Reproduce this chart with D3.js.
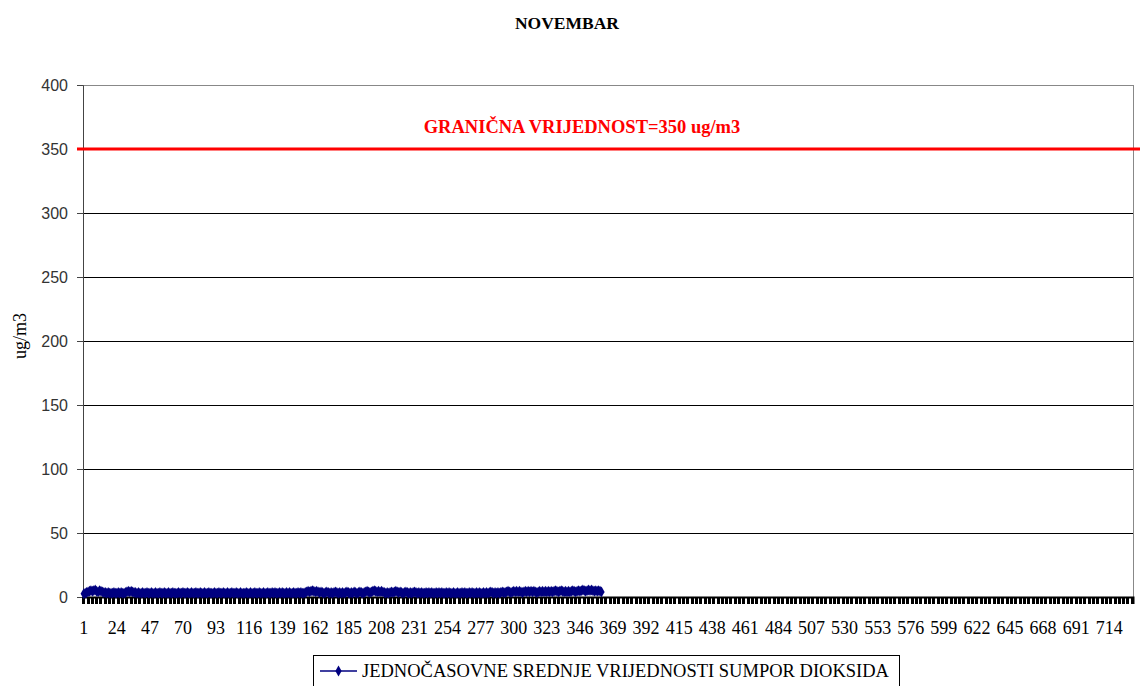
<!DOCTYPE html>
<html>
<head>
<meta charset="utf-8">
<script src="https://cdn.jsdelivr.net/npm/d3@7"></script>
<style>
  body { margin: 0; background: #fff; }
  svg { display: block; }
</style>
</head>
<body>
<div id="chart"></div>
<script>
// chart texts
var title = 'NOVEMBAR';
var yTitle = 'ug/m3';
var limitLabel = 'GRANIČNA VRIJEDNOST=350 ug/m3';
var seriesName = 'JEDNOČASOVNE SREDNJE VRIJEDNOSTI SUMPOR DIOKSIDA';

// hour categories on the x axis (1 .. 730), labels every 23rd
var categoryCount = 730;
var categories = d3.range(1, categoryCount + 1);
var labelStep = 23;

// y axis ticks and limit value
var yTicks = [0, 50, 100, 150, 200, 250, 300, 350, 400];
var limitValue = 350;

// hourly SO2 means (hours 1 .. 361)
var values = [
  2.5,3,3.5,4,4.5,5,4.5,5,5.5,4.5,4,5,4.5,4,3.5,3.5,3,3.5,3,3,
  3,3.5,3,3,3.5,3,3.5,3,3,3.5,4,4.5,4,4.5,4,3.5,3.5,3,3.5,3,
  3,3.5,3,3,3.5,3,3,3.5,3,3,3.5,3,3,3.5,3,3,3.5,3,3,3.5,
  3,3,3.5,3,3,3,3.5,3,3,3.5,3,3,3.5,3,3,3.5,3,3,3.5,3,
  3,3.5,3,3,3.5,3,3,3.5,3,3,3,3.5,3,3,3.5,3,3,3.5,3,3,
  3.5,3,3,3.5,3,3,3.5,3,3,3.5,3,3,3,3.5,3,3,3.5,3,3,3.5,
  3,3,3.5,3,3,3.5,3,3,3.5,3,3,3.5,3,3.5,3,3,3.5,3,3.5,3,
  3,3.5,3,3.5,3,3,3.5,3,3,3.5,3,3.5,3,3,3.5,4,4.5,4,4.5,5,
  4.5,4,4.5,4,3.5,4,3.5,3,3.5,4,3.5,3,3.5,3,3.5,4,3.5,3,3.5,3,
  3.5,3,3.5,4,3.5,3,3.5,3,4,3.5,3,3.5,4,3.5,3,3.5,4,4.5,4,3.5,
  4,4.5,5,4.5,4,4.5,4,4.5,4,3.5,3,3.5,3,3.5,4,3.5,4,4.5,4,3.5,
  4,3.5,3,3.5,4,3.5,3,3.5,3,3.5,4,3.5,3,3.5,3,3.5,3,3,3.5,3,
  3.5,3,3.5,3,3,3.5,3,3.5,3,3.5,3,3,3.5,3,3.5,3,3,3.5,3,3,
  3.5,3,3,3.5,3,3.5,3,3,3.5,3,3.5,3,3,3.5,3,3.5,3,3,3.5,3,
  3.5,3,3.5,4,3.5,3,3.5,3,3.5,3,3.5,4,3.5,3.5,4,4.5,4,3.5,4,4.5,
  4,4.5,4,4.5,4,3.5,4,4.5,4,4.5,4,4.5,4,4.5,4,3.5,4,4.5,4,4.5,
  4,4.5,4,4.5,4,4.5,4,4.5,5,4.5,4,4.5,5,4.5,4,4.5,4,4.5,4,4.5,
  5,4.5,4,4.5,5,4.5,5,5.5,5,4.5,5,5.5,5,5.5,5,4.5,5,4.5,5,4.5,
  4
];

var SERIF = "'Liberation Serif', 'Times New Roman', serif";
var SANS = "'Liberation Sans', Arial, sans-serif";

var width = 1140, height = 686;
var margin = {left: 83, right: 7, top: 85, bottom: 89};

var svg = d3.select('#chart').append('svg')
  .attr('width', width)
  .attr('height', height);

var x = d3.scaleBand()
  .domain(categories)
  .range([margin.left, width - margin.right]);

var y = d3.scaleLinear()
  .domain([0, 400])
  .range([height - margin.bottom, margin.top]);

var navy = '#000080';

// Gridlines
svg.append('g')
  .selectAll('line')
  .data(yTicks.filter(function(d) { return d > 0; }))
  .enter().append('line')
  .attr('x1', margin.left)
  .attr('x2', width - margin.right)
  .attr('y1', function(d) { return y(d); })
  .attr('y2', function(d) { return y(d); })
  .attr('stroke', function(d) { return d === 400 ? '#888' : '#000'; })
  .attr('stroke-width', 1)
  .attr('shape-rendering', 'crispEdges');

// Right plot border
svg.append('line')
  .attr('x1', width - margin.right).attr('x2', width - margin.right)
  .attr('y1', margin.top).attr('y2', y(0))
  .attr('stroke', '#888')
  .attr('shape-rendering', 'crispEdges');

// Y axis
var yAxis = svg.append('g')
  .attr('transform', 'translate(' + margin.left + ',0)')
  .call(d3.axisLeft(y).tickValues(yTicks).tickSize(6).tickPadding(9));
yAxis.select('.domain').attr('stroke', '#444');
yAxis.selectAll('.tick line').attr('stroke', '#444');
yAxis.selectAll('text')
  .style('font-family', SANS)
  .style('font-size', '16px')
  .attr('fill', '#333');

// X axis: dense tick marks + labels every 23rd hour
var xAxis = svg.append('g')
  .attr('transform', 'translate(0,' + y(0) + ')')
  .call(d3.axisBottom(x)
    .tickValues(categories.filter(function(d) { return (d - 1) % 3 === 0; }))
    .tickSize(7)
    .tickFormat(''));
xAxis.select('.domain').attr('stroke', '#000').attr('stroke-width', 2);
xAxis.selectAll('.tick line')
  .attr('stroke', '#000')
  .attr('stroke-width', 3)
  .attr('shape-rendering', 'crispEdges');

svg.append('g')
  .selectAll('text')
  .data(categories.filter(function(d) { return (d - 1) % labelStep === 0; }))
  .enter().append('text')
  .style('font-family', SERIF)
  .style('font-size', '18px')
  .attr('x', function(d) { return x(d) + x.bandwidth() / 2; })
  .attr('y', y(0) + 37)
  .attr('text-anchor', 'middle')
  .attr('fill', '#000')
  .text(function(d) { return d; });

// Limit line
svg.append('line')
  .attr('x1', margin.left - 6)
  .attr('x2', width)
  .attr('y1', y(limitValue))
  .attr('y2', y(limitValue))
  .attr('stroke', '#ff0000')
  .attr('stroke-width', 3);

svg.append('text')
  .style('font-family', SERIF)
  .style('font-weight', 'bold')
  .style('font-size', '18.5px')
  .attr('x', 582)
  .attr('y', y(limitValue) - 16)
  .attr('text-anchor', 'middle')
  .attr('fill', '#ff0000')
  .text(limitLabel);

// Data series
var line = d3.line()
  .x(function(d, i) { return x(categories[i]) + x.bandwidth() / 2; })
  .y(function(d) { return y(d); });

svg.append('path')
  .datum(values)
  .attr('fill', 'none')
  .attr('stroke', navy)
  .attr('stroke-width', 2)
  .attr('d', line);

var diamond = d3.symbol().type(d3.symbolDiamond).size(34);
svg.append('g')
  .selectAll('path')
  .data(values)
  .enter().append('path')
  .attr('transform', function(d, i) {
    return 'translate(' + (x(categories[i]) + x.bandwidth() / 2) + ',' + y(d) + ')';
  })
  .attr('d', diamond)
  .attr('fill', navy);

// Title
svg.append('text')
  .style('font-family', SERIF)
  .style('font-weight', 'bold')
  .style('font-size', '17.5px')
  .attr('x', 567)
  .attr('y', 29)
  .attr('text-anchor', 'middle')
  .text(title);

// Y axis title
svg.append('text')
  .style('font-family', SERIF)
  .style('font-size', '18px')
  .attr('transform', 'translate(26,336) rotate(-90)')
  .attr('text-anchor', 'middle')
  .text(yTitle);

// Legend
var legend = svg.append('g');
legend.append('rect')
  .attr('x', 313.5).attr('y', 655.5)
  .attr('width', 586).attr('height', 40)
  .attr('fill', '#fff')
  .attr('stroke', '#000');
legend.append('line')
  .attr('x1', 320).attr('x2', 357)
  .attr('y1', 671).attr('y2', 671)
  .attr('stroke', navy).attr('stroke-width', 1.5);
legend.append('path')
  .attr('transform', 'translate(338.5,671)')
  .attr('d', d3.symbol().type(d3.symbolDiamond).size(34))
  .attr('fill', navy);
legend.append('text')
  .style('font-family', SERIF)
  .style('font-size', '18.5px')
  .attr('x', 362)
  .attr('y', 677)
  .text(seriesName);
</script>
</body>
</html>
